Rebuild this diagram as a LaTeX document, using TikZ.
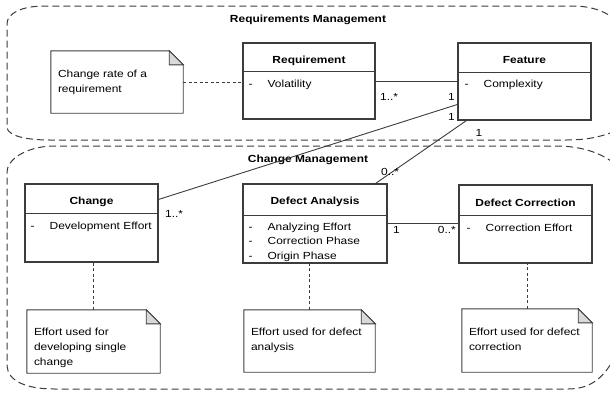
\documentclass[tikz,border=0pt]{standalone}
\usepackage{fontspec}
\setmainfont{Liberation Sans}[FakeStretch=1.16]
\usetikzlibrary{calc}

\definecolor{umlline}{RGB}{60,60,60}
\definecolor{pkgline}{RGB}{60,60,60}
\definecolor{foldgray}{RGB}{217,217,217}

\newcommand{\attrdash}{\makebox[19pt][l]{-}}

\tikzset{
  txt/.style={font=\fontsize{10.3pt}{14.5pt}\selectfont, inner sep=0pt},
  pkg/.style={draw=pkgline, line width=1pt, dash pattern=on 7pt off 4pt},
  pkgname/.style={font=\fontsize{10.3pt}{14.5pt}\selectfont\bfseries, anchor=base},
  classbox/.style={draw=umlline, line width=1.1pt, fill=white},
  classline/.style={draw=umlline, line width=1.1pt},
  classname/.style={font=\fontsize{10.3pt}{14.5pt}\selectfont\bfseries, anchor=base},
  attr/.style={anchor=base west},
  notebox/.style={fill=white},
  noteline/.style={draw=umlline, line width=0.9pt, line join=miter},
  notetext/.style={anchor=north west, align=left, font=\fontsize{10.3pt}{15pt}\selectfont},
  assoc/.style={draw=umlline, line width=0.9pt},
  noteref/.style={draw=umlline, line width=0.9pt, dash pattern=on 3pt off 2.5pt},
  mult/.style={anchor=base}
}

\begin{document}
\begin{tikzpicture}[x=1pt, y=-1pt, every node/.style={txt}]
    \useasboundingbox (0,0) rectangle (610,392);
    \clip (0,0) rectangle (610,392);

    % Pakketten (rechterkant valt buiten beeld)
    \draw[pkg] (625,127) .. controls (605,136) and (590,140) .. (566,140)
        -- (50,140) .. controls (26,140) and (9,136) .. (7,128)
        -- (7,24) .. controls (7,13) and (22,6) .. (45,6)
        -- (572,6) .. controls (595,6) and (610,13) .. (622,26);
    \draw[pkg] (622,170) .. controls (608,156) and (588,147) .. (560,146)
        -- (52,146) .. controls (25,147) and (7,160) .. (7,172)
        -- (7,366) .. controls (8,381) and (26,389) .. (55,389)
        -- (568,389) .. controls (588,389) and (603,380) .. (614,358);
    \node[pkgname] (rmtitle) at (308,22) {Requirements Management};
    \node[pkgname] (cmtitle) at (308,162) {Change Management};

    % Klassen
    \node[classbox, minimum width=132pt, minimum height=76pt] (req) at (309,81) {};
    \draw[classline] ($(req.north west)+(0,29)$) -- ($(req.north east)+(0,29)$);
    \node[classname] (reqname) at ($(req.north)+(0,21)$) {Requirement};
    \node[attr] (reqvol) at ($(req.north west)+(6,45)$) {\attrdash Volatility};

    \node[classbox, minimum width=133pt, minimum height=77pt] (feat) at (524.5,81.5) {};
    \draw[classline] ($(feat.north west)+(0,30)$) -- ($(feat.north east)+(0,30)$);
    \node[classname] (featname) at ($(feat.north)+(0,21)$) {Feature};
    \node[attr] (featcpx) at ($(feat.north west)+(7,45)$) {\attrdash Complexity};

    \node[classbox, minimum width=133pt, minimum height=78pt] (chg) at (91.5,223) {};
    \draw[classline] ($(chg.north west)+(0,30)$) -- ($(chg.north east)+(0,30)$);
    \node[classname] (chgname) at ($(chg.north)+(0,21)$) {Change};
    \node[attr] (chgdev) at ($(chg.north west)+(6,46)$) {\attrdash Development Effort};

    \node[classbox, minimum width=144pt, minimum height=79pt] (da) at (315,223.5) {};
    \draw[classline] ($(da.north west)+(0,32)$) -- ($(da.north east)+(0,32)$);
    \node[classname] (daname) at ($(da.north)+(0,21)$) {Defect Analysis};
    \node[attr] (daeff) at ($(da.north west)+(6,47)$) {\attrdash Analyzing Effort};
    \node[attr] (dacor) at ($(da.north west)+(6,61.5)$) {\attrdash Correction Phase};
    \node[attr] (daori) at ($(da.north west)+(6,76)$) {\attrdash Origin Phase};

    \node[classbox, minimum width=133pt, minimum height=78pt] (dc) at (525.5,224) {};
    \draw[classline] ($(dc.north west)+(0,31)$) -- ($(dc.north east)+(0,31)$);
    \node[classname] (dcname) at ($(dc.north)+(0,22)$) {Defect Correction};
    \node[attr] (dceff) at ($(dc.north west)+(8,47)$) {\attrdash Correction Effort};

    % Notities
    \node[notebox, minimum width=132pt, minimum height=62pt] (cr) at (117,82) {};
    \node[notebox, minimum width=133pt, minimum height=63pt] (ec) at (93.5,341.5) {};
    \node[notebox, minimum width=131pt, minimum height=62pt] (ea) at (309.5,341) {};
    \node[notebox, minimum width=130pt, minimum height=63pt] (ed) at (527,340.5) {};
    \foreach \n in {cr,ec,ea,ed}{
        \draw[noteline] (\n.north west) -- ($(\n.north east)+(-14,0)$)
            -- ($(\n.north east)+(0,14)$) -- (\n.south east) -- (\n.south west) -- cycle;
        \draw[noteline, fill=foldgray] ($(\n.north east)+(-14,0)$)
            |- ($(\n.north east)+(0,14)$) -- cycle;
    }
    \node[notetext] (crtext) at ($(cr.north west)+(7,19)$) {Change rate of a\\requirement};
    \node[notetext] (ectext) at ($(ec.north west)+(7,18)$) {Effort used for\\developing single\\change};
    \node[notetext] (eatext) at ($(ea.north west)+(7,18)$) {Effort used for defect\\analysis};
    \node[notetext] (edtext) at ($(ed.north west)+(7,19)$) {Effort used for defect\\correction};

    % Verwijzingen naar notities
    \draw[noteref] (cr.east) -- (cr.east -| req.west);
    \draw[noteref] (ec.north) -- (ec.north |- chg.south);
    \draw[noteref] (ea.north) -- (ea.north |- da.south);
    \draw[noteref] (ed.north) -- (ed.north |- dc.south);

    % Associaties
    \draw[assoc] (req.east) -- (req.east -| feat.west);
    \draw[assoc] ($(feat.north west)+(0,62)$) -- ($(chg.north east)+(0,16)$);
    \draw[assoc] ($(feat.south west)+(9,0)$) -- ($(da.north east)+(-12,0)$);
    \draw[assoc] (da.east) -- (da.east -| dc.west);

    % Multipliciteiten
    \node[mult, anchor=base west] (m1) at (380,100) {1..*};
    \node[mult, anchor=base east] (m2) at (455,100) {1};
    \node[mult, anchor=base east] (m3) at (455,120) {1};
    \node[mult] (m4) at (479,136) {1};
    \node[mult, anchor=base west] (m5) at (165,217) {1..*};
    \node[mult, anchor=base west] (m6) at (381,175) {0..*};
    \node[mult, anchor=base west] (m7) at (393,233) {1};
    \node[mult, anchor=base east] (m8) at (456,233) {0..*};
\end{tikzpicture}
\end{document}
